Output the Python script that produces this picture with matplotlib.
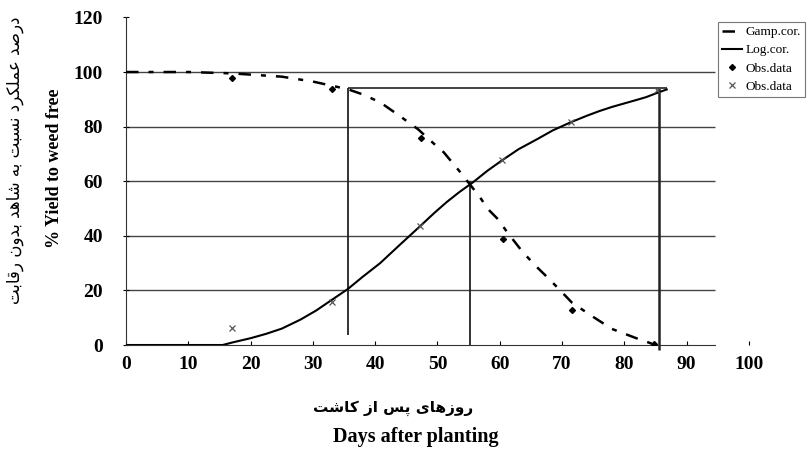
import numpy as np
import matplotlib
matplotlib.use("Agg")
import matplotlib.pyplot as plt

# Gompertz-type fit (decreasing) and logistic fit (rising)
gamp_days = [0, 10, 17, 25, 30, 33, 35.6, 38, 40.8, 44, 46.9, 48.8, 51, 53.7, 56.8,
             58.1, 59.7, 61.2, 63.7, 65.8, 67.6, 69.2, 71.6, 75, 78, 81.8, 84.4, 85.6]
gamp_yield = [100, 100, 99.5, 98.3, 96.5, 95, 93.7, 91.8, 88.9, 83.8, 79, 75, 70.6, 63.2, 54.2,
              49.8, 46.1, 41.3, 34, 28.9, 24.9, 21.2, 15.5, 10.3, 5.9, 2.6, 0.5, 0]
log_days = [0, 15.5, 17.2, 20, 22.5, 25, 28, 30.5, 32.3, 35.6, 38, 40.8, 44, 47.2, 49.5, 51.5,
            53.5, 55.7, 58, 60.4, 63, 66, 68.5, 71.4, 74, 76, 78, 80, 82, 83.5, 85.2, 86.8]
log_yield = [0, 0, 1.0, 2.5, 4.1, 6, 9.3, 12.6, 15.4, 20.5, 25, 30, 36.8, 43.5, 48.4, 52.4,
             56, 59.6, 63.8, 67.7, 71.7, 75.4, 78.6, 81.6, 84, 85.7, 87.2, 88.5, 89.8, 90.8, 92.3, 93.6]

obs_dec_days = [17, 33.1, 47.3, 60.5, 71.6, 84.8]
obs_dec_yield = [97.8, 93.7, 75.7, 38.8, 12.8, 0.3]
obs_inc_days = [17, 33.1, 47.2, 60.4, 71.4, 85.2]
obs_inc_yield = [6.2, 15.7, 43.5, 67.7, 81.6, 93.5]

# critical period guide lines
h_level = 94
h_start, h_end = 35.6, 86.8
v_lines = [(35.6, 3.7, 94), (55.2, 0, 60), (85.6, -2, 94)]

xticks = [0, 10, 20, 30, 40, 50, 60, 70, 80, 90, 100]
yticks = [0, 20, 40, 60, 80, 100, 120]

FORMS = {
    'ا': ('\uFE8D', '\uFE8E', None, None),
    'ب': ('\uFE8F', '\uFE90', '\uFE91', '\uFE92'),
    'پ': ('\uFB56', '\uFB57', '\uFB58', '\uFB59'),
    'ت': ('\uFE95', '\uFE96', '\uFE97', '\uFE98'),
    'د': ('\uFEA9', '\uFEAA', None, None),
    'ر': ('\uFEAD', '\uFEAE', None, None),
    'ز': ('\uFEAF', '\uFEB0', None, None),
    'س': ('\uFEB1', '\uFEB2', '\uFEB3', '\uFEB4'),
    'ش': ('\uFEB5', '\uFEB6', '\uFEB7', '\uFEB8'),
    'ص': ('\uFEB9', '\uFEBA', '\uFEBB', '\uFEBC'),
    'ع': ('\uFEC9', '\uFECA', '\uFECB', '\uFECC'),
    'ق': ('\uFED5', '\uFED6', '\uFED7', '\uFED8'),
    'ک': ('\uFB8E', '\uFB8F', '\uFB90', '\uFB91'),
    'ل': ('\uFEDD', '\uFEDE', '\uFEDF', '\uFEE0'),
    'م': ('\uFEE1', '\uFEE2', '\uFEE3', '\uFEE4'),
    'ن': ('\uFEE5', '\uFEE6', '\uFEE7', '\uFEE8'),
    'ه': ('\uFEE9', '\uFEEA', '\uFEEB', '\uFEEC'),
    'و': ('\uFEED', '\uFEEE', None, None),
    'ی': ('\uFBFC', '\uFBFD', '\uFBFE', '\uFBFF'),
}


def shape(text):
    # join Persian letters by hand and flip to visual order
    out = []
    for i, ch in enumerate(text):
        if ch not in FORMS:
            out.append(ch)
            continue
        iso, fin, ini, med = FORMS[ch]
        prev = text[i - 1] if i > 0 else ' '
        nxt = text[i + 1] if i < len(text) - 1 else ' '
        p = prev in FORMS and FORMS[prev][2] is not None
        n = nxt in FORMS and ini is not None
        if p and n:
            out.append(med)
        elif p:
            out.append(fin)
        elif n:
            out.append(ini)
        else:
            out.append(iso)
    return ''.join(out)[::-1]


fa_ylabel = shape('درصد عملکرد نسبت به شاهد بدون رقابت')
fa_xlabel = shape('روزهای پس از کاشت')

plt.rcParams['font.family'] = ['Liberation Serif', 'DejaVu Sans']

fig = plt.figure(figsize=(8.1, 4.5), dpi=100)
ax = fig.add_axes([0.1556, 0.2333, 0.769, 0.728])
ax.set_xlim(0, 100)
ax.set_ylim(0, 120)

# horizontal grid stops short of the legend
ax.hlines(yticks[1:-1], 0, 94.5, color='#444444', lw=1.0, zorder=1)

ax.plot(gamp_days, gamp_yield, color='black', lw=1.8, dashes=(5, 4, 2, 4), label='Gamp.cor.', zorder=3)
ax.plot(log_days, log_yield, color='black', lw=1.5, label='Log.cor.', zorder=3)
ax.plot(obs_dec_days, obs_dec_yield, 'D', color='black', ms=3, label='Obs.data', zorder=4)
ax.plot(obs_inc_days, obs_inc_yield, 'x', color='#555555', ms=5, mew=0.9, label='Obs.data', zorder=4)

ax.hlines(h_level, h_start, h_end, color='#222222', lw=1.2, zorder=2)
for xv, y0, y1 in v_lines:
    ax.vlines(xv, y0, y1, color='#222222', lw=1.3 if xv < 80 else 1.8, zorder=2, clip_on=False)

ax.spines['top'].set_visible(False)
ax.spines['right'].set_visible(False)
ax.spines['bottom'].set_bounds(0, 94.5)
ax.spines['left'].set_color('#333333')
ax.spines['bottom'].set_color('#333333')

ax.set_xticks(xticks)
ax.set_yticks(yticks)
ax.tick_params(axis='y', direction='inout', length=5, pad=14, labelsize=14)
ax.tick_params(axis='x', direction='in', length=3, pad=8, labelsize=14)
for lab in ax.get_xticklabels() + ax.get_yticklabels():
    lab.set_fontweight('bold')

fig.text(55 / 810, 1 - 168 / 450, '% Yield to weed free', rotation=90, ha='center', va='center',
         fontsize=13, fontweight='bold')
fig.text(15 / 810, 1 - 160 / 450, fa_ylabel, rotation=90, ha='center', va='center',
         fontsize=12, family=['DejaVu Sans'])
fig.text(393 / 810, 1 - 408 / 450, fa_xlabel, ha='center', va='center',
         fontsize=11, fontweight='bold', family=['DejaVu Sans'])
fig.text(416 / 810, 1 - 437 / 450, 'Days after planting', ha='center', va='center',
         fontsize=14.5, fontweight='bold')

leg = ax.legend(loc='upper left', bbox_to_anchor=(718 / 810, 1 - 22 / 450),
                bbox_transform=fig.transFigure, fontsize=9.5, frameon=True, fancybox=False,
                handlelength=1.5, labelspacing=0.45, borderpad=0.3, handletextpad=0.3,
                borderaxespad=0)
leg.get_frame().set_edgecolor('#555555')
leg.get_frame().set_linewidth(0.8)

fig.savefig('out.png', dpi=100)
